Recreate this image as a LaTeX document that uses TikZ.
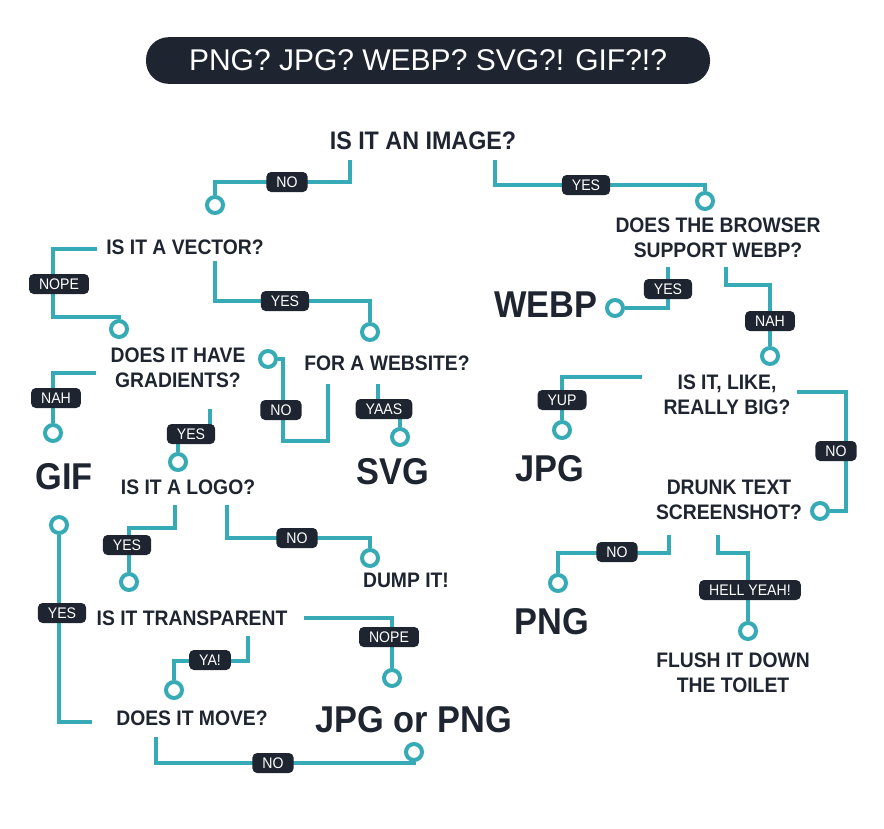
\documentclass[tikz,border=0pt]{standalone}
\usepackage{fontspec}
\setmainfont{Liberation Sans}[FakeStretch=0.92]
\newfontfamily\titlefont{Liberation Sans}
\definecolor{tealc}{HTML}{36ABB5}
\definecolor{ink}{HTML}{1E2530}
\tikzset{
  conn/.style={draw=tealc, line width=3pt},
  dot/.style={circle, draw=tealc, line width=3pt, fill=white, minimum size=12pt, inner sep=0pt},
  pill/.style={fill=ink, text=white, rounded corners=3.5pt, font=\fontsize{11.5}{12}\selectfont, minimum height=15pt, inner xsep=7.5pt, inner ysep=0pt},
  q/.style={text=ink, font=\fontsize{15.75}{18.5}\selectfont\bfseries, align=center, inner sep=0pt},
  bigq/.style={text=ink, font=\fontsize{19}{22}\selectfont\bfseries, inner sep=0pt},
  big/.style={text=ink, font=\fontsize{28}{30}\selectfont\bfseries, inner sep=0pt}
}
\begin{document}
\begin{tikzpicture}[x=0.75pt,y=-0.75pt]
\useasboundingbox (0,0) rectangle (884,828);
% title
\node[fill=ink, rounded corners=17pt, minimum width=423pt, minimum height=35pt, text=white, font=\titlefont\fontsize{22.5}{25}\selectfont] (title) at (428,60.5) {PNG? JPG? WEBP? SVG?! GIF?!?};
% question texts
\node[bigq] (image) at (423,141) {IS IT AN IMAGE?};
\node[q] (browser) at (718,238) {DOES THE BROWSER\\SUPPORT WEBP?};
\node[q] (vector) at (185,247) {IS IT A VECTOR?};
\node[q] (grad) at (178,368) {DOES IT HAVE\\GRADIENTS?};
\node[q] (website) at (387,363) {FOR A WEBSITE?};
\node[q] (logo) at (188,487) {IS IT A LOGO?};
\node[q] (dump) at (406,580) {DUMP IT!};
\node[q] (transp) at (192,618) {IS IT TRANSPARENT};
\node[q] (move) at (192,718) {DOES IT MOVE?};
\node[q] (bigimg) at (727,395) {IS IT, LIKE,\\REALLY BIG?};
\node[q] (drunk) at (729,500) {DRUNK TEXT\\SCREENSHOT?};
\node[q] (flush) at (733,673) {FLUSH IT DOWN\\THE TOILET};
% answers
\node[big] (webp) at (546,305) {WEBP};
\node[big] (gif) at (64,477) {GIF};
\node[big] (svg) at (393,472) {SVG};
\node[big] (jpg) at (550,469) {JPG};
\node[big] (png) at (552,622) {PNG};
\node[big] (jpgpng) at (414,720) {JPG or PNG};
% circles
\node[dot] (cNo1) at (215,205) {};
\node[dot] (cYes1) at (705,201) {};
\node[dot] (cWebp) at (615,308) {};
\node[dot] (cBig) at (770,356) {};
\node[dot] (cGrad) at (119,329) {};
\node[dot] (cWeb) at (370,332) {};
\node[dot] (cGif) at (53,433) {};
\node[dot] (cLogo) at (178,462) {};
\node[dot] (cGrad2) at (268,359) {};
\node[dot] (cSvg) at (400,437) {};
\node[dot] (cTrans) at (129,582) {};
\node[dot] (cDump) at (370,558) {};
\node[dot] (cJP) at (392,678) {};
\node[dot] (cMove) at (174,690) {};
\node[dot] (cGif2) at (59,525) {};
\node[dot] (cJP2) at (414,752) {};
\node[dot] (cJpg) at (562,430) {};
\node[dot] (cDrunk) at (820,511) {};
\node[dot] (cPng) at (558,583) {};
\node[dot] (cFlush) at (748,631) {};
% start coordinates
\coordinate (a1) at (350,160);
\coordinate (a2) at (495,160);
\coordinate (b1) at (668,267);
\coordinate (b2) at (726,267);
\coordinate (v1) at (97,249);
\coordinate (v2) at (215,261);
\coordinate (g1) at (96,373);
\coordinate (g2) at (210,409);
\coordinate (w1) at (328,384);
\coordinate (w2) at (378,384);
\coordinate (l1) at (175,505);
\coordinate (l2) at (227,505);
\coordinate (t1) at (304,618);
\coordinate (t2) at (248,636);
\coordinate (m1) at (92,722);
\coordinate (m2) at (156,737);
\coordinate (k1) at (642,377);
\coordinate (k2) at (797,392);
\coordinate (d1) at (669,535);
\coordinate (d2) at (718,535);
% connectors
\path[conn] (a1) -- (350,182) -| (cNo1);
\path[conn] (a2) -- (495,185) -| (cYes1);
\path[conn] (b1) |- (cWebp);
\path[conn] (b2) -- (726,285) -| (cBig);
\path[conn] (v1) -- (53,249) -- (53,317) -| (cGrad);
\path[conn] (v2) -- (215,301) -| (cWeb);
\path[conn] (g1) -| (cGif);
\path[conn] (g2) -- (210,434) -| (cLogo);
\path[conn] (w1) -- (328,441) -- (283,441) |- (cGrad2);
\path[conn] (w2) -- (378,409) -| (cSvg);
\path[conn] (l1) -- (175,528) -| (cTrans);
\path[conn] (l2) -- (227,538) -| (cDump);
\path[conn] (t1) -| (cJP);
\path[conn] (t2) -- (248,661) -| (cMove);
\path[conn] (m1) -| (cGif2);
\path[conn] (m2) -- (156,763) -| (cJP2);
\path[conn] (k1) -| (cJpg);
\path[conn] (k2) -- (846,392) |- (cDrunk);
\path[conn] (d1) -- (669,553) -| (cPng);
\path[conn] (d2) -- (718,553) -| (cFlush);
% labels
\node[pill] (lNo1) at (287,182) {NO};
\node[pill] (lYes1) at (586,185) {YES};
\node[pill] (lYes2) at (668,289) {YES};
\node[pill] (lNah1) at (770,321) {NAH};
\node[pill] (lNope1) at (59,284) {NOPE};
\node[pill] (lYes3) at (285,301) {YES};
\node[pill] (lNah2) at (56,398) {NAH};
\node[pill] (lYes4) at (191,434) {YES};
\node[pill] (lNo2) at (281,410) {NO};
\node[pill] (lYaas) at (384,409) {YAAS};
\node[pill] (lYes5) at (127,545) {YES};
\node[pill] (lNo3) at (297,538) {NO};
\node[pill] (lNope2) at (389,637) {NOPE};
\node[pill] (lYa) at (210,660) {YA!};
\node[pill] (lYes6) at (62,613) {YES};
\node[pill] (lNo4) at (273,763) {NO};
\node[pill] (lYup) at (562,400) {YUP};
\node[pill] (lNo5) at (836,451) {NO};
\node[pill] (lNo6) at (617,552) {NO};
\node[pill] (lHell) at (750,590) {HELL YEAH!};
\end{tikzpicture}
\end{document}
